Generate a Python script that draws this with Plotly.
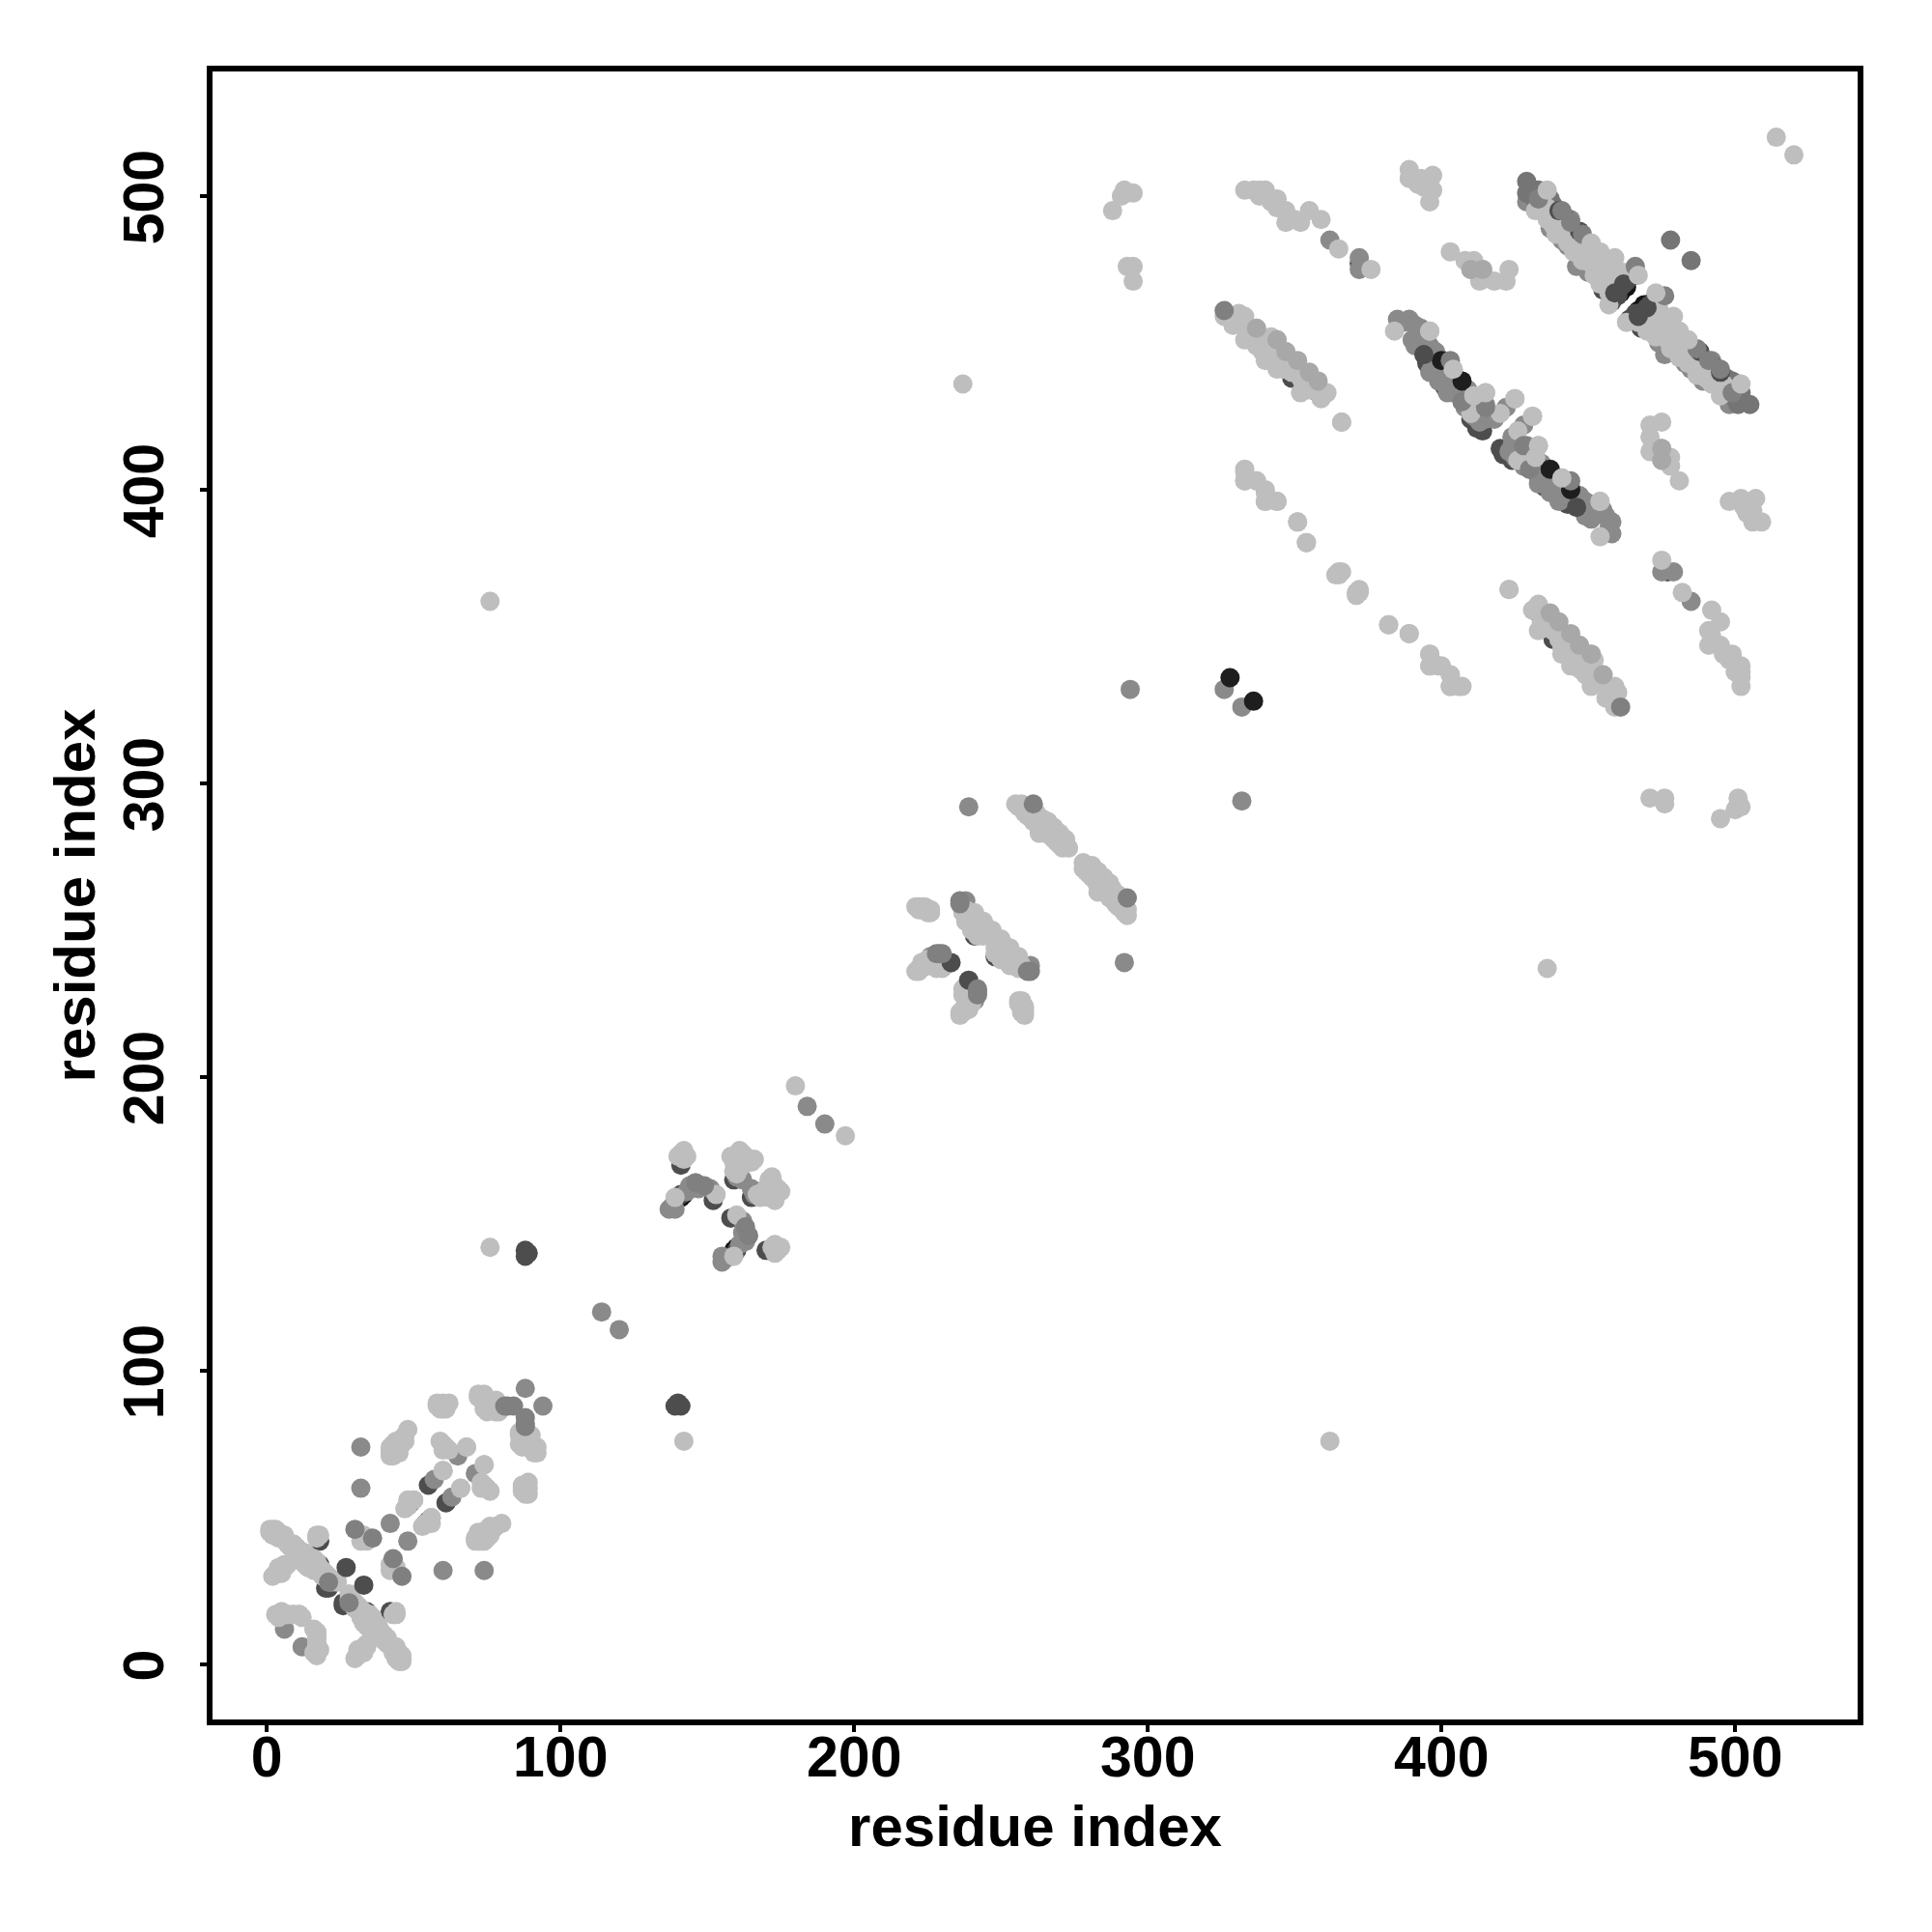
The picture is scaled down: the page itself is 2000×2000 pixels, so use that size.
import plotly.graph_objects as go

# Contact pairs (i, j), each drawn at (i, j) and (j, i); one list per grey level / draw layer.
under_black = [(402, 437), (464, 472), (461, 467), (141, 159), (142, 160), (406, 436), (463, 469)]
under_dark = [(18, 42), (18, 34), (20, 26), (21, 26), (49, 55), (55, 61), (80, 88), (241, 248),
              (141, 170), (152, 158), (141, 160), (141, 171), (358, 433), (349, 438), (392, 451),
              (395, 443), (407, 433), (414, 420), (412, 421), (460, 466), (463, 471), (458, 464),
              (159, 165), (160, 173), (89, 140), (88, 141), (88, 139), (372, 477), (48, 54),
              (455, 468), (457, 470), (459, 468), (461, 469), (398, 444), (401, 435), (410, 424)]
mid = [(6, 12), (22, 28), (28, 22), (42, 48), (57, 63), (65, 71), (32, 74), (32, 60),
       (78, 89), (88, 94), (114, 120), (137, 155), (139, 155), (138, 156), (143, 161),
       (151, 162), (141, 173), (160, 166), (161, 168), (162, 165), (164, 146),
       (144, 163), (147, 162), (184, 190), (239, 292), (238, 260), (226, 241),
       (294, 332), (326, 332), (362, 485), (372, 479), (372, 475), (429, 498), (433, 498), (440, 492),
       (444, 492), (443, 483), (448, 477), (454, 474), (385, 458), (387, 457), (389, 458), (390, 451),
       (393, 455), (392, 453), (394, 450), (396, 449), (396, 440), (398, 447), (395, 446), (402, 433),
       (400, 440), (407, 430), (405, 435), (415, 429), (415, 424), (418, 424), (422, 428), (410, 428),
       (403, 440), (399, 437), (391, 449), (397, 443), (398, 441), (401, 437), (404, 433), (408, 428),
       (411, 425), (412, 427), (410, 431), (391, 456), (395, 452), (399, 445), (405, 438), (409, 434),
       (413, 431), (413, 423), (416, 426), (446, 476), (450, 474), (437, 489), (441, 485)]
mid_dark = [(429, 505), (429, 501), (433, 502), (436, 496), (432, 499), (430, 503), (478, 485), (437, 499),
            (431, 500), (434, 500), (438, 497), (442, 493)]
light = [(1, 46), (1, 45), (2, 46), (3, 46), (4, 45), (5, 44), (6, 43), (6, 44), (8, 40), (9, 39), (10, 38),
         (11, 38), (12, 37), (13, 36), (14, 35), (15, 34), (16, 33), (2, 30), (3, 31), (4, 32), (5, 33),
         (6, 33), (7, 34), (2, 44), (3, 44), (4, 43), (7, 41), (9, 41), (11, 36), (12, 36), (13, 34),
         (15, 35), (16, 32), (18, 33), (19, 30), (21, 30), (22, 29), (10, 40), (11, 39), (13, 38), (14, 37),
         (12, 35), (14, 33), (15, 36), (16, 36), (17, 35), (4, 31), (5, 32), (6, 34), (5, 31), (4, 33),
         (17, 43), (17, 44), (18, 44), (20, 31), (19, 32), (24, 28), (5, 17), (3, 17), (4, 16), (7, 17),
         (9, 17), (11, 17), (12, 16), (17, 5), (18, 5), (17, 7), (17, 9), (17, 11), (33, 43), (35, 43),
         (32, 42), (34, 42), (33, 44), (47, 53), (48, 54), (50, 56), (48, 56), (60, 66), (68, 74), (60, 75),
         (59, 76), (61, 74), (62, 73), (60, 73), (42, 72), (42, 74), (43, 75), (44, 72), (45, 74), (46, 77),
         (48, 80), (47, 78), (42, 73), (44, 76), (43, 73), (44, 74), (45, 72), (46, 75), (47, 76), (43, 71),
         (42, 71), (58, 89), (60, 89), (62, 89), (58, 88), (61, 88), (60, 87), (59, 87), (61, 87), (72, 92),
         (74, 92), (74, 89), (76, 87), (79, 86), (78, 86), (75, 90), (77, 88), (74, 87), (72, 91), (78, 90),
         (76, 89), (76, 142), (76, 362), (75, 86), (140, 173), (141, 174), (142, 172), (139, 159), (153, 160),
         (142, 175), (143, 173), (161, 175), (159, 173), (166, 172), (164, 172), (161, 172), (162, 174),
         (159, 172), (161, 170), (160, 167), (159, 168), (158, 173), (163, 173), (165, 171), (159, 171),
         (162, 170), (163, 171), (161, 169), (160, 170), (180, 197), (221, 258), (222, 258), (224, 257),
         (226, 256), (225, 257), (223, 258), (222, 257), (224, 258), (225, 256), (226, 257), (223, 257),
         (237, 256), (240, 256), (242, 252), (245, 251), (241, 254), (243, 249), (240, 250), (239, 253),
         (238, 255), (244, 253), (246, 249), (242, 250), (238, 253), (240, 252), (242, 248), (244, 248),
         (244, 250), (247, 250), (241, 252), (243, 251), (245, 249), (238, 257), (241, 256), (243, 253),
         (221, 236), (223, 239), (225, 240), (226, 238), (228, 237), (230, 237), (224, 238), (222, 237),
         (227, 238), (223, 237), (225, 238), (227, 240), (229, 239), (231, 238), (222, 236), (255, 293),
         (257, 293), (256, 292), (258, 290), (259, 291), (260, 289), (262, 288), (263, 287), (261, 289),
         (264, 286), (265, 287), (266, 285), (267, 284), (268, 283), (269, 282), (270, 281), (271, 280),
         (272, 279), (266, 283), (268, 281), (270, 279), (264, 284), (263, 285), (258, 292), (259, 289),
         (261, 287), (263, 283), (265, 283), (267, 282), (269, 280), (262, 290), (264, 288), (266, 287),
         (268, 285), (270, 283), (272, 281), (271, 278), (273, 278), (237, 436), (288, 495), (291, 500),
         (293, 501), (295, 501), (292, 502), (293, 476), (295, 476), (295, 471), (333, 502), (338, 502),
         (340, 502), (336, 502), (338, 500), (344, 499), (344, 496), (347, 495), (347, 491), (352, 491),
         (355, 495), (359, 492), (350, 492), (342, 498), (365, 482), (376, 475), (389, 509), (389, 506),
         (393, 506), (397, 507), (394, 503), (397, 502), (396, 498), (392, 504), (403, 481), (408, 478),
         (411, 478), (410, 475), (414, 475), (413, 471), (418, 471), (422, 471), (423, 475), (415, 472),
         (514, 520), (326, 459), (330, 459), (333, 459), (329, 456), (333, 451), (337, 455), (337, 449),
         (342, 452), (344, 451), (340, 444), (347, 447), (344, 441), (352, 438), (352, 433), (355, 434),
         (361, 433), (359, 431), (366, 423), (336, 453), (340, 450), (346, 444), (331, 457), (334, 455),
         (335, 453), (338, 451), (339, 447), (342, 447), (343, 449), (345, 447), (346, 441), (348, 443),
         (349, 440), (350, 441), (353, 436), (354, 438), (356, 435), (357, 436), (358, 434), (337, 452),
         (331, 460), (333, 407), (333, 403), (337, 403), (340, 400), (340, 396), (344, 396), (351, 389),
         (354, 382), (365, 372), (364, 371), (372, 366), (371, 365), (382, 354), (389, 351), (396, 344),
         (396, 340), (399, 340), (403, 337), (403, 333), (406, 333), (423, 366), (384, 454), (396, 454),
         (404, 441), (411, 432), (415, 433), (410, 426), (425, 431), (420, 426), (432, 495), (436, 492),
         (439, 487), (444, 488), (451, 477), (454, 470), (458, 468), (457, 463), (454, 481), (459, 479),
         (462, 474), (447, 480), (443, 484), (436, 496), (452, 473), (440, 490), (441, 488), (438, 490),
         (442, 486), (445, 485), (446, 483), (445, 481), (448, 482), (449, 480), (450, 479), (448, 478),
         (452, 478), (452, 476), (455, 477), (456, 475), (453, 477), (456, 472), (458, 471), (455, 473),
         (460, 470), (459, 475), (461, 471), (457, 467)]
top_pale = [(351, 444), (355, 440), (358, 437), (337, 455), (344, 451), (414, 475), (410, 475), (347, 447)]
top_black = [(400, 444), (407, 437), (328, 336)]
top_dark = [(27, 33), (233, 239), (440, 495), (447, 488), (394, 446), (462, 470), (459, 467)]
top_mid = [(403, 444), (466, 476), (407, 430), (415, 428), (84, 88), (82, 88), (88, 81), (433, 499), (441, 495),
           (444, 491), (448, 487), (36, 43), (30, 46), (21, 28), (146, 164), (149, 163), (228, 242), (230, 242),
           (229, 242), (236, 259), (236, 260), (261, 293), (326, 461)]
top_light = [(436, 502), (451, 484), (467, 473), (404, 441), (411, 432), (415, 433), (425, 431), (396, 454),
             (50, 56), (60, 66), (68, 74)]

LAYERS = [(under_black, "#141414"), (under_dark, "#4d4d4d"), (mid, "#8a8a8a"), (mid_dark, "#757575"),
          (light, "#bebebe"), (top_pale, "#a8a8a8"), (top_black, "#1e1e1e"), (top_dark, "#4d4d4d"),
          (top_mid, "#808080"), (top_light, "#bebebe")]
TICKS = [0, 100, 200, 300, 400, 500]
AXIS_TITLE = "residue index"

fig = go.Figure()
for pairs, colour in LAYERS:
    i = [p[0] for p in pairs]
    j = [p[1] for p in pairs]
    fig.add_trace(go.Scatter(x=i + j, y=j + i, mode="markers",
                             marker=dict(size=20, color=colour, line=dict(width=0)),
                             showlegend=False, hoverinfo="skip"))

tick_font = dict(family="Liberation Sans", size=59, color="black", weight=700)
title_font = dict(family="Liberation Sans", size=60, color="black", weight=700)
axis = dict(showgrid=False, zeroline=False, showline=True, mirror=True, linecolor="black", linewidth=5.5,
            ticks="outside", ticklen=7, tickwidth=4, tickcolor="black",
            tickmode="array", tickvals=TICKS, ticktext=[str(t) for t in TICKS], tickfont=tick_font)
fig.update_layout(width=2000, height=2000, autosize=False, paper_bgcolor="white", plot_bgcolor="white",
                  margin=dict(l=212, r=85, t=66, b=228), showlegend=False,
                  xaxis=dict(axis, range=[-18.5, 541.7], ticklabelstandoff=-25,
                             title=dict(text=AXIS_TITLE, font=title_font, standoff=20)),
                  yaxis=dict(axis, range=[-18.75, 542.4], tickangle=-90, ticklabelstandoff=15,
                             ticklabelshift=10,
                             title=dict(text=AXIS_TITLE, font=title_font, standoff=0)))
fig.write_html("out.html")
